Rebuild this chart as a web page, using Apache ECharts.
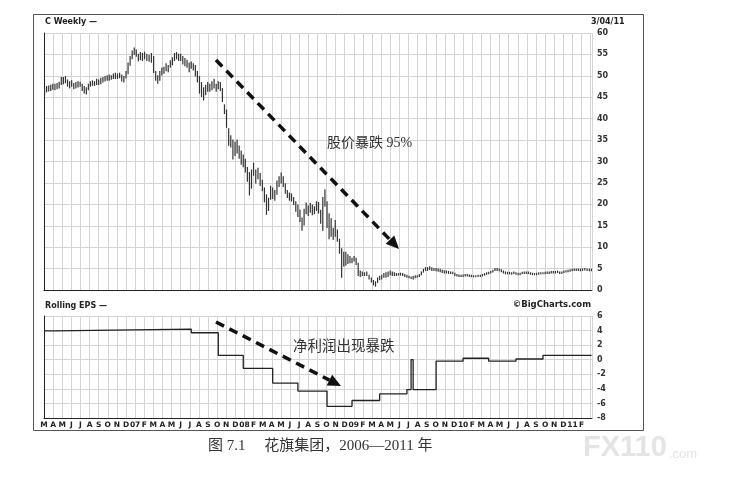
<!DOCTYPE html>
<html>
<head>
<meta charset="utf-8">
<script src="https://cdn.jsdelivr.net/npm/echarts@6/dist/echarts.min.js"></script>
<style>
  html, body { margin: 0; padding: 0; background: #fff; }
  #chart { width: 741px; height: 492px; }
</style>
</head>
<body>
<div id="chart"></div>
<script>
// weekly bars, first Friday of the series
let firstWeek = '2006-03-03';

// weekly high / low, one block per year
let high2006 = [47.0, 47.5, 47.6, 47.8, 48.0, 48.0, 48.2, 48.5, 49.6, 49.6, 49.8, 49.0, 48.6,
  48.8, 48.2, 48.4, 48.6, 48.5, 48.0, 47.5, 47.2, 48.0, 48.6, 48.8, 48.6, 49.2,
  49.0, 49.4, 49.6, 49.8, 50.0, 50.2, 50.0, 50.4, 50.6, 50.4, 50.6, 50.2, 49.8,
  51.0, 53.0, 54.5, 55.8, 56.5];
let low2006 = [45.8, 46.3, 46.5, 46.6, 46.9, 46.8, 47.0, 47.2, 48.0, 48.2, 48.4, 47.6, 47.2,
  47.6, 47.0, 47.2, 47.4, 47.6, 46.6, 46.0, 45.8, 46.8, 47.6, 47.8, 47.8, 48.0,
  48.0, 48.2, 48.6, 48.8, 49.0, 49.0, 49.2, 49.4, 49.4, 49.4, 49.6, 48.8, 48.6,
  49.5, 50.5, 52.5, 54.0, 55.0];

let high2007 = [56.0, 55.0, 55.4, 55.2, 55.5, 55.0, 54.8, 55.2, 54.5, 51.0, 50.0, 51.0, 51.8,
  52.0, 52.8, 52.4, 53.5, 54.2, 55.2, 55.4, 55.0, 55.0, 54.5, 54.0, 53.6, 53.0,
  53.2, 52.8, 52.4, 51.0, 49.8, 48.4, 47.2, 47.8, 48.4, 48.0, 48.6, 49.2, 48.0,
  48.6, 48.4, 47.0, 43.2, 42.0, 37.6, 36.0, 35.0, 34.5, 35.0, 33.6, 32.4, 31.5];
let low2007 = [54.6, 53.5, 53.8, 53.6, 54.0, 53.6, 53.4, 53.2, 50.8, 49.0, 48.3, 49.0, 50.2,
  50.6, 51.2, 51.0, 52.0, 52.6, 53.6, 54.0, 53.6, 53.6, 52.8, 52.4, 52.0, 51.0,
  51.8, 51.4, 50.0, 48.6, 46.0, 45.2, 44.4, 45.6, 46.4, 46.4, 46.8, 47.2, 46.4,
  47.0, 46.6, 44.0, 41.2, 38.0, 33.8, 33.4, 30.6, 31.4, 32.0, 30.8, 29.4, 28.8];

let high2008 = [30.5, 28.6, 27.4, 28.0, 29.6, 28.0, 28.4, 27.2, 25.6, 23.8, 22.2, 21.4, 24.2,
  23.8, 23.2, 25.4, 26.4, 27.3, 26.4, 24.8, 23.2, 22.6, 22.4, 21.6, 20.6, 19.8,
  18.6, 16.8, 18.8, 20.3, 19.6, 20.2, 19.8, 19.4, 20.6, 20.4, 18.6, 21.6, 23.3,
  20.6, 17.8, 16.6, 14.4, 16.2, 14.0, 11.8, 9.6, 8.8, 8.8, 8.2, 7.8, 7.4];
let low2008 = [27.6, 25.4, 22.2, 23.8, 26.8, 25.0, 26.0, 24.4, 23.2, 20.6, 17.7, 18.6, 21.2,
  21.4, 21.0, 22.4, 24.2, 25.0, 24.2, 22.6, 21.6, 21.0, 20.8, 20.0, 18.4, 17.2,
  16.0, 14.0, 15.2, 17.8, 17.4, 18.2, 17.6, 17.8, 18.6, 18.0, 15.6, 14.0, 19.6,
  14.6, 12.0, 12.6, 11.8, 12.6, 11.4, 8.6, 3.0, 5.6, 5.8, 6.2, 6.4, 6.4];

let high2009 = [7.8, 7.4, 6.2, 4.4, 4.2, 4.0, 4.2, 3.4, 2.8, 2.2, 1.9, 2.8, 3.2,
  3.4, 3.8, 4.0, 4.2, 4.4, 4.2, 4.0, 3.8, 3.8, 3.9, 3.8, 3.6, 3.4,
  3.2, 3.0, 3.1, 3.3, 3.3, 3.6, 4.2, 4.8, 5.2, 5.2, 5.4, 5.2, 5.0,
  5.0, 4.9, 4.8, 4.6, 4.5, 4.4, 4.3, 4.2, 4.1, 3.9, 3.6, 3.5, 3.4];
let low2009 = [6.8, 6.0, 3.4, 3.2, 3.4, 3.4, 3.4, 2.6, 1.9, 1.2, 0.9, 1.8, 2.4,
  2.6, 3.0, 3.0, 3.2, 3.6, 3.4, 3.4, 3.4, 3.5, 3.5, 3.4, 3.2, 3.0,
  2.9, 2.7, 2.6, 2.9, 3.0, 3.2, 3.6, 4.2, 4.6, 4.6, 4.8, 4.6, 4.6,
  4.5, 4.4, 4.3, 4.1, 4.0, 4.0, 3.9, 3.9, 3.8, 3.4, 3.3, 3.2, 3.2];

let high2010 = [3.5, 3.6, 3.6, 3.5, 3.4, 3.3, 3.3, 3.4, 3.4, 3.6, 3.8, 4.0, 4.1,
  4.3, 4.6, 5.0, 5.0, 4.9, 4.7, 4.4, 4.2, 4.1, 4.1, 4.0, 4.2, 4.0,
  3.9, 3.9, 4.1, 4.2, 4.2, 4.2, 4.0, 3.9, 3.8, 3.9, 4.0, 4.0, 4.0,
  4.1, 4.2, 4.2, 4.3, 4.3, 4.3, 4.4, 4.2, 4.2, 4.4, 4.5, 4.6, 4.7, 4.8];
let low2010 = [3.2, 3.3, 3.3, 3.2, 3.1, 3.1, 3.1, 3.2, 3.2, 3.3, 3.5, 3.7, 3.8,
  4.0, 4.2, 4.6, 4.6, 4.5, 4.3, 4.0, 3.8, 3.8, 3.8, 3.7, 3.9, 3.7,
  3.6, 3.6, 3.8, 3.9, 3.9, 3.9, 3.7, 3.6, 3.6, 3.6, 3.7, 3.8, 3.8,
  3.8, 3.9, 3.9, 4.0, 4.0, 4.0, 4.1, 3.9, 3.9, 4.1, 4.2, 4.3, 4.4, 4.5];

let high2011 = [4.9, 4.9, 4.9, 4.8, 4.9, 5.0, 4.9, 4.8, 4.8];
let low2011 = [4.6, 4.6, 4.6, 4.5, 4.6, 4.7, 4.6, 4.5, 4.5];

// rolling EPS, each value holds until the next date
let epsDates = ['2006-03-03', '2006-04-07', '2007-07-06', '2007-10-05', '2007-12-28',
  '2008-04-04', '2008-06-27', '2008-10-03', '2008-12-26', '2009-03-27', '2009-06-26',
  '2009-07-10', '2009-07-17', '2009-10-02', '2010-01-01', '2010-03-26', '2010-06-25',
  '2010-09-24', '2011-03-04'];
let epsValues = [3.95, 4.2, 3.7, 0.6, -1.2, -3.2, -4.3, -6.4, -5.6, -4.7, -4.1,
  0, -4.1, -0.2, 0.2, -0.2, 0.1, 0.6, 0.6];

let monthLetters = ['J', 'F', 'M', 'A', 'M', 'J', 'J', 'A', 'S', 'O', 'N', 'D'];
let priceTicks = { min: 0, max: 60, step: 5 };
let epsTicks = { min: -8, max: 6, step: 2 };

// x is counted in months from 1 Mar 2006
function monthIndex(d) {
  let y = d.getUTCFullYear(), m = d.getUTCMonth(), day = d.getUTCDate();
  let dim = new Date(Date.UTC(y, m + 1, 0)).getUTCDate();
  return (y - 2006) * 12 + (m - 2) + (day - 1) / dim;
}
function parseDay(s) {
  let p = s.split('-');
  return new Date(Date.UTC(+p[0], +p[1] - 1, +p[2]));
}

let highs = [].concat(high2006, high2007, high2008, high2009, high2010, high2011);
let lows = [].concat(low2006, low2007, low2008, low2009, low2010, low2011);
let start = parseDay(firstWeek);
let priceData = highs.map((h, i) => {
  let d = new Date(start.getTime() + i * 7 * 86400000);
  return [monthIndex(d), lows[i], h];
});
let lastX = priceData[priceData.length - 1][0];
let epsData = epsDates.map((s, i) => [monthIndex(parseDay(s)), epsValues[i]]);

let GRID = '#d4d4d4';
let INK = '#222';
let tickFont = { fontSize: 8, fontWeight: 'bold', fontFamily: 'DejaVu Sans', color: '#333' };

function monthLabel(v) {
  if (Math.abs(v - Math.round(v)) > 1e-6 || v >= 60) return '';
  let m = (v + 2) % 12;
  if (m === 0) return String(2006 + Math.floor((v + 2) / 12)).slice(2);
  return monthLetters[m];
}

function arrow(x1, y1, x2, y2) {
  let dx = x2 - x1, dy = y2 - y1, len = Math.sqrt(dx * dx + dy * dy);
  let ux = dx / len, uy = dy / len, head = 13, half = 6;
  let bx = x2 - ux * head, by = y2 - uy * head;
  return [
    { type: 'line', z: 100, shape: { x1: x1, y1: y1, x2: bx, y2: by },
      style: { stroke: '#111', lineWidth: 3.5, lineDash: [9, 6] } },
    { type: 'polygon', z: 100,
      shape: { points: [[x2, y2], [bx - uy * half, by + ux * half], [bx + uy * half, by - ux * half]] },
      style: { fill: '#111' } }
  ];
}

function label(text, x, y, opts) {
  return { type: 'text', x: x, y: y, z: 100,
    style: Object.assign({ text: text, fill: '#222', fontSize: 8, fontWeight: 'bold',
      fontFamily: 'DejaVu Sans', align: 'left', verticalAlign: 'middle' }, opts || {}) };
}

let chart = echarts.init(document.getElementById('chart'));

let option = {
  backgroundColor: '#fff',
  animation: false,
  grid: [
    { left: 44, top: 33, width: 548, height: 257 },
    { left: 44, top: 316, width: 548, height: 102 }
  ],
  xAxis: [0, 1].map(g => ({
    type: 'value', gridIndex: g, min: 0, max: lastX + 0.05, interval: 1,
    axisLine: { show: true, onZero: false, lineStyle: { color: INK, width: 1 } },
    axisTick: { show: false },
    splitLine: { show: true, lineStyle: { color: GRID, width: 1 } },
    axisLabel: g === 0 ? { show: false } : { formatter: monthLabel, margin: 3, fontSize: 7.5,
      color: INK, fontWeight: 'bold', fontFamily: 'DejaVu Sans' }
  })),
  yAxis: [
    { type: 'value', gridIndex: 0, position: 'right', min: priceTicks.min, max: priceTicks.max, interval: priceTicks.step,
      axisLine: { show: true, lineStyle: { color: INK, width: 1 } }, axisTick: { show: false },
      splitLine: { lineStyle: { color: GRID, width: 1 } },
      axisLabel: Object.assign({ margin: 5 }, tickFont) },
    { type: 'value', gridIndex: 1, position: 'right', min: epsTicks.min, max: epsTicks.max, interval: epsTicks.step,
      axisLine: { show: true, lineStyle: { color: INK, width: 1 } }, axisTick: { show: false },
      splitLine: { lineStyle: { color: GRID, width: 1 } },
      axisLabel: Object.assign({ margin: 5 }, tickFont) }
  ],
  series: [
    {
      name: 'C Weekly', type: 'custom', xAxisIndex: 0, yAxisIndex: 0, clip: true,
      data: priceData, encode: { x: 0, y: [1, 2] },
      renderItem: function (params, api) {
        let lo = api.coord([api.value(0), api.value(1)]);
        let hi = api.coord([api.value(0), api.value(2)]);
        return { type: 'line',
          shape: { x1: lo[0], y1: lo[1] + 0.6, x2: hi[0], y2: hi[1] - 0.6 },
          style: { stroke: '#333', lineWidth: 1.2 } };
      }
    },
    {
      name: 'Rolling EPS', type: 'line', xAxisIndex: 1, yAxisIndex: 1, step: 'end',
      data: epsData, symbol: 'none',
      lineStyle: { color: INK, width: 1.3 }
    }
  ],
  graphic: [
    { type: 'rect', z: 90, shape: { x: 33.5, y: 14.5, width: 610, height: 416 },
      style: { fill: 'none', stroke: '#555', lineWidth: 1 } },
    label('C Weekly \u2014', 45, 22),
    label('3/04/11', 591, 22),
    label('Rolling EPS \u2014', 45, 306),
    label('\u00A9BigCharts.com', 591, 305, { align: 'right', fontSize: 8.5 }),
    label('\u80A1\u4EF7\u66B4\u8DCC 95%', 327, 143,
      { fontSize: 14, fontWeight: 'normal', fontFamily: '"Liberation Serif", "Noto Sans CJK SC"', fill: '#333' }),
    label('\u51C0\u5229\u6DA6\u51FA\u73B0\u66B4\u8DCC', 293, 345,
      { fontSize: 14.5, fontWeight: 'normal', fontFamily: '"Noto Sans CJK SC"', fill: '#333' }),
    label('\u56FE 7.1\u3000 \u82B1\u65D7\u96C6\u56E2\uFF0C2006\u20142011 \u5E74', 208, 446,
      { fontSize: 15, fontWeight: 'normal', fontFamily: '"Liberation Serif", "Noto Sans CJK SC"', fill: '#333' }),
    label('FX110', 583, 448, { fontSize: 29, fontFamily: '"Liberation Sans"', fill: '#e4e4e4' }),
    label('.com', 669, 454, { fontSize: 13, fontWeight: 'normal', fontFamily: '"Liberation Sans"', fill: '#e4e4e4' })
  ].concat(arrow(216, 60, 399, 249), arrow(216, 322, 341, 386))
};

chart.setOption(option);
</script>
</body>
</html>
